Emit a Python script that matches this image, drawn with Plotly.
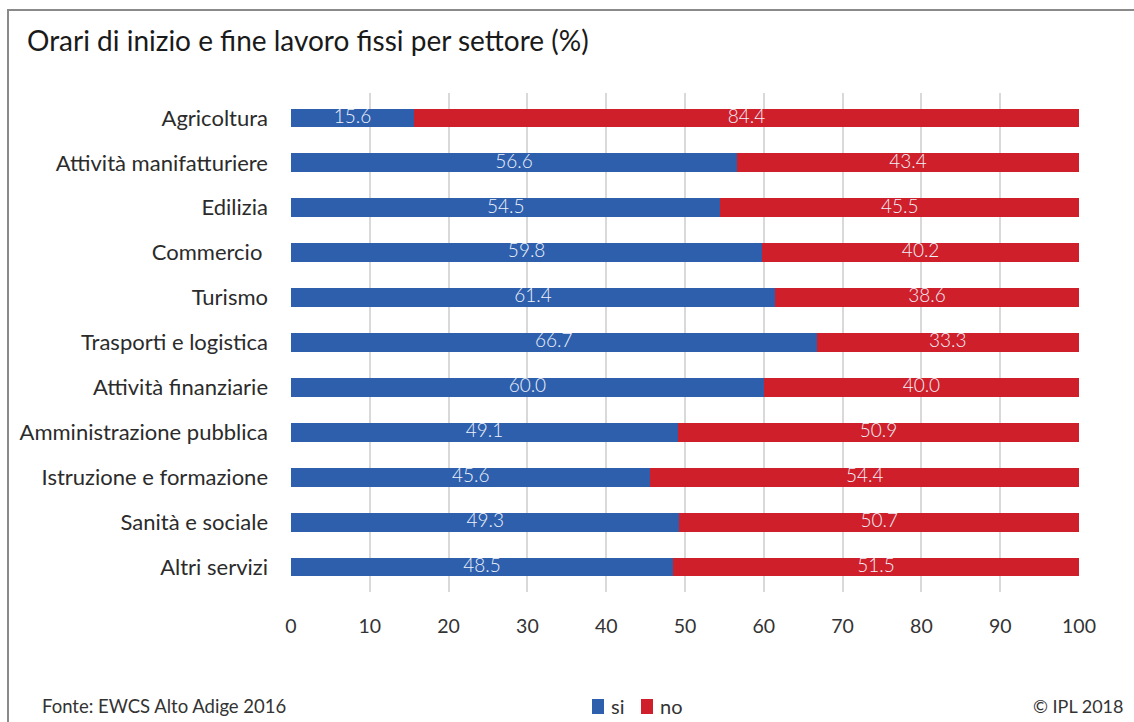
import plotly.graph_objects as go

categories = [
    "Agricoltura",
    "Attività manifatturiere",
    "Edilizia",
    "Commercio ",
    "Turismo",
    "Trasporti e logistica",
    "Attività finanziarie",
    "Amministrazione pubblica",
    "Istruzione e formazione",
    "Sanità e sociale",
    "Altri servizi",
]
si_values = [15.6, 56.6, 54.5, 59.8, 61.4, 66.7, 60.0, 49.1, 45.6, 49.3, 48.5]
no_values = [84.4, 43.4, 45.5, 40.2, 38.6, 33.3, 40.0, 50.9, 54.4, 50.7, 51.5]
x_ticks = [0, 10, 20, 30, 40, 50, 60, 70, 80, 90, 100]

FONT = "Lato, 'Open Sans', sans-serif"
BLUE = "#2D5FAD"
RED = "#CE1F2B"
LABEL = "#eef2fa"

W, H = 1134, 722
L, R, T, B = 291, 55, 93, 130
pw, ph = W - L - R, H - T - B


def px_x(px):
    return (px - L) / pw


def px_y(py):
    return (H - B - py) / ph


fig = go.Figure()
for name, vals, col in [("si", si_values, BLUE), ("no", no_values, RED)]:
    fig.add_trace(go.Bar(
        name=name, y=categories, x=vals, orientation="h",
        marker=dict(color=col, line=dict(width=0)),
        width=0.42, hoverinfo="skip",
    ))

# Value labels centred on each segment
si_mid = [v / 2 for v in si_values]
no_mid = [s + n / 2 for s, n in zip(si_values, no_values)]
for mids, vals in [(si_mid, si_values), (no_mid, no_values)]:
    fig.add_trace(go.Scatter(
        x=mids, y=categories, mode="text",
        text=[f"{v:.1f}" for v in vals],
        textposition="middle center",
        textfont=dict(family=FONT, size=19, color=LABEL, weight=300),
        hoverinfo="skip", showlegend=False,
    ))

fig.update_layout(
    width=W, height=H, barmode="stack",
    margin=dict(l=L, r=R, t=T, b=B),
    paper_bgcolor="white", plot_bgcolor="white",
    font=dict(family=FONT, color="#333333"),
    showlegend=False,
    xaxis=dict(range=[0, 100], tickvals=x_ticks, showgrid=True,
               gridcolor="#d9d9d9", gridwidth=2, zeroline=False,
               showline=False, ticks="", ticklabelstandoff=20,
               tickfont=dict(size=19.5, color="#333333")),
    yaxis=dict(autorange="reversed", showgrid=False, zeroline=False,
               showline=False, ticks="", ticklabelstandoff=22,
               tickfont=dict(size=22, color="#2b2b2b")),
)

# Frame around the figure
fig.add_shape(type="rect", xref="paper", yref="paper",
              x0=px_x(8), x1=px_x(1200), y0=px_y(800), y1=px_y(10),
              line=dict(color="#8a8a8a", width=2), fillcolor="rgba(0,0,0,0)",
              layer="below")

ann = []
ann.append(dict(text="Orari di inizio e fine lavoro fissi per settore (%)",
                xref="paper", yref="paper", x=px_x(25), y=px_y(40),
                xanchor="left", yanchor="middle", showarrow=False,
                font=dict(size=28, color="#1a1a1a", family=FONT)))
ann.append(dict(text="Fonte: EWCS Alto Adige 2016", xref="paper", yref="paper",
                x=px_x(40), y=px_y(706), xanchor="left", yanchor="middle",
                showarrow=False, font=dict(size=18.5, color="#333333", family=FONT)))
ann.append(dict(text="© IPL 2018", xref="paper", yref="paper",
                x=px_x(1126), y=px_y(706), xanchor="right", yanchor="middle",
                showarrow=False, font=dict(size=18, color="#333333", family=FONT)))
# Legend entries
for label, col, x0 in [("si", BLUE, 592), ("no", RED, 641)]:
    fig.add_shape(type="rect", xref="paper", yref="paper",
                  x0=px_x(x0), x1=px_x(x0 + 12), y0=px_y(714), y1=px_y(699),
                  fillcolor=col, line=dict(width=0))
    ann.append(dict(text=label, xref="paper", yref="paper",
                    x=px_x(x0 + 17), y=px_y(706), xanchor="left", yanchor="middle",
                    showarrow=False, font=dict(size=20, color="#333333", family=FONT)))
fig.update_layout(annotations=ann)

fig.write_html("out.html")
